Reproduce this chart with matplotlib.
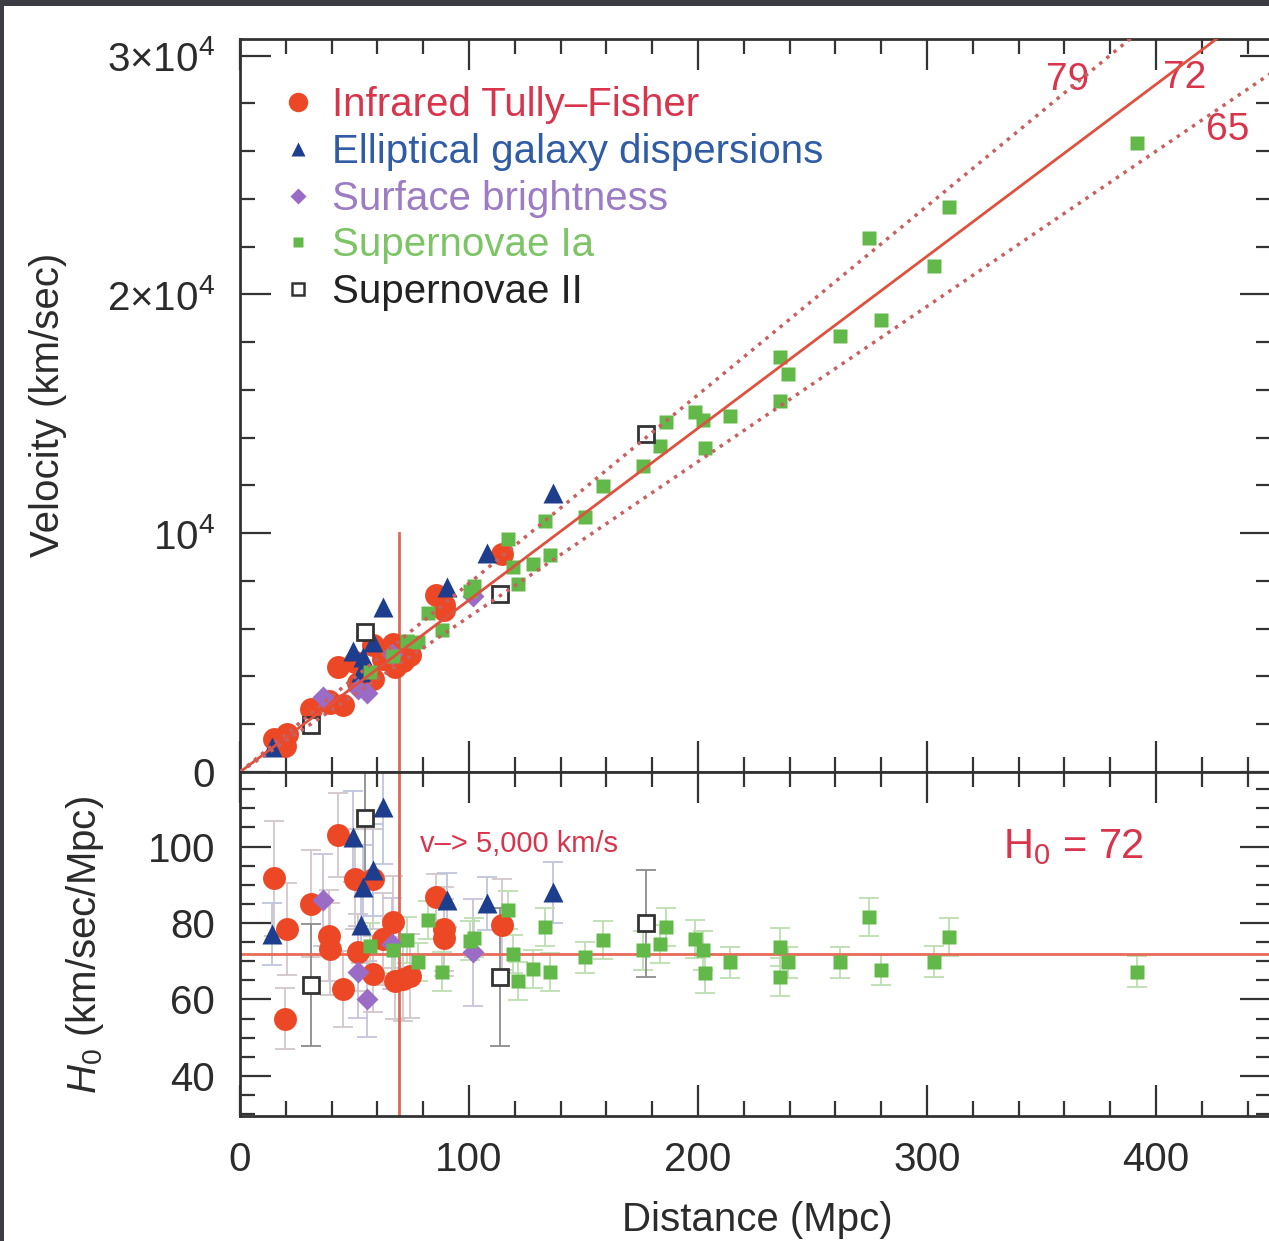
import matplotlib.pyplot as plt
from matplotlib.lines import Line2D
from matplotlib.patches import Rectangle
from matplotlib.ticker import MultipleLocator, FixedLocator

plt.rcParams['font.family'] = ['Liberation Sans', 'DejaVu Sans']
plt.rcParams['mathtext.fontset'] = 'custom'
plt.rcParams['mathtext.rm'] = 'Liberation Sans'
plt.rcParams['mathtext.it'] = 'Liberation Sans:italic'
plt.rcParams['mathtext.bf'] = 'Liberation Sans:bold'

# Infrared Tully-Fisher
tf_d = [15.0, 20.4, 19.7, 30.9, 42.7, 39.0, 39.3, 44.8, 50.2, 58.2, 51.7,
        58.2, 66.7, 62.6, 67.7, 74.2, 71.3, 85.6, 89.1, 89.1, 114.6]
tf_v = [1376, 1599, 1082, 2627, 4394, 2991, 2877, 2809, 4593, 5325, 3738,
        3876, 5349, 4745, 4394, 4912, 4663, 7422, 6985, 6789, 9122]
tf_h0 = [91.7, 78.4, 54.9, 85.0, 102.9, 76.7, 73.2, 62.7, 91.5, 91.5, 72.3,
         66.6, 80.2, 75.8, 64.9, 66.2, 65.4, 86.7, 78.4, 76.2, 79.6]
tf_err = [15, 12, 8, 14, 11, 12, 12, 10, 13, 13, 10,
          10, 12, 12, 10, 11, 11, 6, 11, 10, 12]

# Elliptical galaxy dispersions
el_d = [13.8, 49.5, 62.6, 57.9, 53.8, 52.7, 90.2, 107.7, 136.5]
el_v = [1064, 5079, 6905, 5437, 4815, 4195, 7757, 9165, 11700]
el_h0 = [77.1, 102.6, 110.3, 93.9, 89.5, 79.6, 86.0, 85.1, 88.0]
el_err = [8, 12, 15, 12, 11, 10, 7, 7, 8]

# Surface brightness
sb_d = [36.4, 51.7, 55.3, 66.2, 101.9]
sb_v = [3130, 3469, 3324, 4939, 7367]
sb_h0 = [86.0, 67.1, 60.1, 74.6, 72.3]
sb_err = [12, 12, 10, 12, 14]

# Supernovae Ia
sn1_d = [56.8, 72.8, 66.9, 77.9, 82.2, 88.1, 100.4, 102.2, 117.2, 119.4, 121.5,
         128.1, 135.4, 133.2, 150.7, 158.7, 176.1, 183.4, 186.0, 198.7, 202.3,
         203.1, 214.0, 235.6, 239.4, 235.9, 262.1, 274.6, 279.9, 303.2, 309.7,
         391.6]
sn1_v = [4209, 5504, 4870, 5430, 6642, 5929, 7570, 7788, 9774, 8585, 7885,
         8711, 9085, 10509, 10700, 11998, 12820, 13663, 14675, 15061, 14727,
         13567, 14916, 17387, 16686, 15522, 18268, 22380, 18949, 21194, 23661,
         26355]
sn1_h0 = [74.1, 75.6, 72.8, 69.7, 80.8, 67.3, 75.4, 76.2, 83.4, 71.9, 64.9,
          68.0, 67.1, 78.9, 71.0, 75.6, 72.8, 74.5, 78.9, 75.8, 72.8,
          66.8, 69.7, 73.8, 69.7, 65.8, 69.7, 81.5, 67.7, 69.9, 76.4,
          67.3]
sn1_err = [6, 6, 6, 5, 5, 5, 5, 5, 5, 5, 5,
           5, 5, 5, 4, 5, 5, 5, 5, 5, 5,
           5, 4, 5, 4, 5, 4, 5, 4, 4, 5,
           4]

# Supernovae II
sn2_d = [30.9, 54.6, 113.5, 177.3]
sn2_v = [1971, 5870, 7468, 14166]
sn2_h0 = [63.8, 107.5, 65.8, 79.9]
sn2_err = [16, 15, 18, 14]

h0_lines = [79, 72, 65]
h0_best = 72
v_cut = 5000

labels = ['Infrared Tully\u2013Fisher', 'Elliptical galaxy dispersions',
          'Surface brightness', 'Supernovae Ia', 'Supernovae II']

red = '#ec4826'
blue = '#1d3d8d'
purple = '#9b6cc6'
green = '#62b848'
label_colors = ['#d8354c', '#2f5ca4', '#9c7cc4', '#7cc466', '#222222']
txt_red = '#d8354c'
dark = '#2b2b2b'

W, H = 1269, 1241
fig = plt.figure(figsize=(W / 100, H / 100), dpi=100, facecolor='#3b3d42')
fig.patches.append(Rectangle((4 / W, 0), 1, 1 - 6 / H, transform=fig.transFigure,
                             facecolor='white', edgecolor='none', zorder=-5))


def px(x0, y0, w, h):
    return [x0 / W, 1 - (y0 + h) / H, w / W, h / H]


ax1 = fig.add_axes(px(240, 39, 1030.5, 733))
ax2 = fig.add_axes(px(240, 772, 1030.5, 344))

for ax in (ax1, ax2):
    ax.set_xlim(0, 450)
    ax.xaxis.set_major_locator(MultipleLocator(100))
    ax.xaxis.set_minor_locator(MultipleLocator(20))
    ax.tick_params(which='both', direction='in', top=True, right=True,
                   width=1.6, color='#333333', labelcolor=dark,
                   labelsize=29, pad=18)
    ax.tick_params(which='major', length=22)
    ax.tick_params(which='minor', length=11)
    for s in ax.spines.values():
        s.set_linewidth(2)
        s.set_color('#333333')
    ax.set_facecolor('white')

ax1.tick_params(labelbottom=False)
ax1.set_ylim(0, 30700)
ax1.yaxis.set_major_locator(FixedLocator([0, 10000, 20000, 30000]))
ax1.yaxis.set_minor_locator(MultipleLocator(2000))
ax1.set_yticklabels(['0', '10$^4$', '2\u00d710$^4$', '3\u00d710$^4$'])

ax2.set_ylim(29.5, 119.5)
ax2.yaxis.set_major_locator(FixedLocator([40, 60, 80, 100]))
ax2.yaxis.set_minor_locator(MultipleLocator(5))

# top panel: velocity vs distance
dd = [0, 450]
for h in h0_lines:
    if h == h0_best:
        ax1.plot(dd, [h * x for x in dd], color='#e0503e', lw=2, zorder=5)
    else:
        ax1.plot(dd, [h * x for x in dd], ':', color='#c86060', lw=2.5, zorder=5)
d_cut = v_cut / h0_best
ax1.plot([d_cut, d_cut], [0, 10000], color='#dc6a5a', lw=2, zorder=2)

ax1.plot(tf_d, tf_v, 'o', ms=16.5, color=red, mec='none', zorder=3)
ax1.plot(el_d, el_v, '^', ms=14, color=blue, mec='none', zorder=3)
ax1.plot(sb_d, sb_v, 'D', ms=11, color=purple, mec='none', zorder=3)
ax1.plot(sn1_d, sn1_v, 's', ms=10.5, color=green, mec='none', zorder=3)
ax1.plot(sn2_d, sn2_v, 's', ms=11, mfc='white', mec='#333333', mew=2, zorder=3)

ax1.text(361.6, 28983, '79', color=txt_red, fontsize=28, ha='center', va='center')
ax1.text(412.7, 29067, '72', color=txt_red, fontsize=28, ha='center', va='center')
ax1.text(431.4, 26889, '65', color=txt_red, fontsize=28, ha='center', va='center')

handles = [
    Line2D([], [], ls='none', marker='o', ms=14, color=red, mec='none'),
    Line2D([], [], ls='none', marker='^', ms=10, color=blue, mec='none'),
    Line2D([], [], ls='none', marker='D', ms=8, color=purple, mec='none'),
    Line2D([], [], ls='none', marker='s', ms=7.5, color=green, mec='none'),
    Line2D([], [], ls='none', marker='s', ms=8, mfc='white', mec='#333333', mew=1.8),
]
leg = ax1.legend(handles, labels, loc='upper left', bbox_to_anchor=(0.0423, 0.936),
                 frameon=False, fontsize=29, handlelength=0.7, handletextpad=0.5,
                 labelspacing=0.22, borderpad=0, borderaxespad=0)
for t, c in zip(leg.get_texts(), label_colors):
    t.set_color(c)

# bottom panel: H0 vs distance
ax2.axhline(h0_best, color='#e86a58', lw=2, zorder=2.5)
ax2.axvline(d_cut, color='#dc6a5a', lw=2, zorder=2.5)

eb = dict(fmt='none', elinewidth=1.3, capsize=7, capthick=1.3, zorder=2)
ax2.errorbar(tf_d, tf_h0, yerr=tf_err, ecolor='#d2c6ca', **eb)
ax2.errorbar(el_d, el_h0, yerr=el_err, ecolor='#bfc5dc', **eb)
ax2.errorbar(sb_d, sb_h0, yerr=sb_err, ecolor='#cac1da', **eb)
ax2.errorbar(sn1_d, sn1_h0, yerr=sn1_err, ecolor='#bddeb0', **eb)
ax2.errorbar(sn2_d, sn2_h0, yerr=sn2_err, ecolor='#8c8c8c', **eb)

ax2.plot(tf_d, tf_h0, 'o', ms=16.5, color=red, mec='none', zorder=3)
ax2.plot(el_d, el_h0, '^', ms=14, color=blue, mec='none', zorder=3)
ax2.plot(sb_d, sb_h0, 'D', ms=11, color=purple, mec='none', zorder=3)
ax2.plot(sn1_d, sn1_h0, 's', ms=10.5, color=green, mec='none', zorder=3)
ax2.plot(sn2_d, sn2_h0, 's', ms=11, mfc='white', mec='#333333', mew=2, zorder=3)

ax2.text(78.6, 98.6, 'v\u2013> 5,000 km/s', color=txt_red, fontsize=21,
         ha='left', va='baseline')
ax2.text(333.2, 97.0, 'H$_\\mathrm{0}$ = 72', color=txt_red, fontsize=30,
         ha='left', va='baseline')

fig.text(48 / W, 1 - 405 / H, 'Velocity (km/sec)', rotation=90, fontsize=29,
         color=dark, ha='center', va='center')
fig.text(85 / W, 1 - 945 / H, '$H_0$ (km/sec/Mpc)', rotation=90, fontsize=29,
         color=dark, ha='center', va='center')
fig.text(757 / W, 1 - 1220 / H, 'Distance (Mpc)', fontsize=29,
         color=dark, ha='center', va='center')

fig.savefig('out.png', dpi=100, facecolor=fig.get_facecolor())
